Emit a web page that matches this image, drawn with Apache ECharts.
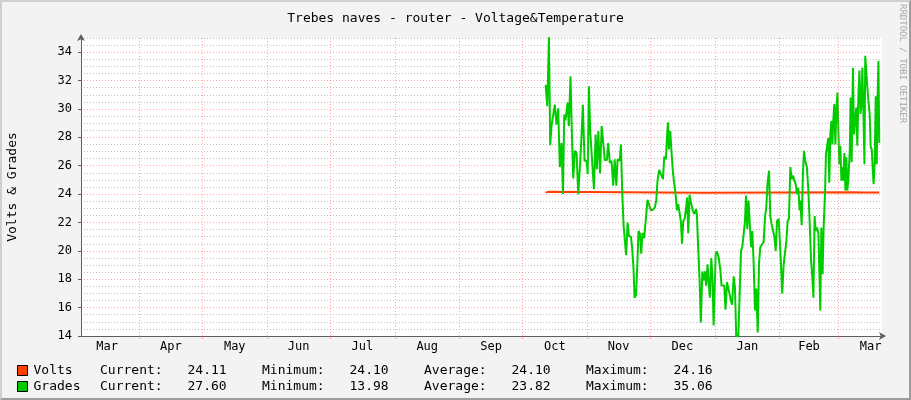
<!DOCTYPE html>
<html lang="en">
<head>
<meta charset="UTF-8">
<title>Trebes naves - router - Voltage&amp;Temperature</title>
<script src="https://cdn.jsdelivr.net/npm/echarts@6/dist/echarts.min.js"></script>
<style>
  html, body { margin: 0; padding: 0; background: #f3f3f3; }
  #wrap { position: relative; width: 911px; height: 400px; }
  #main { width: 911px; height: 400px; }
  #frame {
    position: absolute; left: 0; top: 0; width: 911px; height: 400px;
    box-sizing: border-box; pointer-events: none;
    border-top: 2px solid #cfcfcf; border-left: 2px solid #cfcfcf;
    border-bottom: 2px solid #9c9c9c; border-right: 2px solid #9c9c9c;
  }
</style>
</head>
<body>
<div id="wrap">
  <div id="main"></div>
  <div id="frame"></div>
</div>
<script>
// days counted from 1 March of the first year
var monthNames   = ['Mar', 'Apr', 'May', 'Jun', 'Jul', 'Aug', 'Sep', 'Oct', 'Nov', 'Dec', 'Jan', 'Feb', 'Mar'];
var monthStarts  = [0, 31, 61, 92, 122, 153, 184, 214, 245, 275, 306, 337, 365];
var monthLengths = [31, 30, 31, 30, 31, 31, 30, 31, 30, 31, 31, 28, 31];
var dayMin = 3, dayMax = 385.9;

var yTicks = [14, 16, 18, 20, 22, 24, 26, 28, 30, 32, 34];

var voltDays   = [225.1, 226.3, 227.2, 300, 372.0, 372.8, 376.4, 377.3, 384.6];
var voltValues = [24.10, 24.16, 24.10, 24.10, 24.13, 24.10, 24.12, 24.10, 24.11];

var gradeDays = [
  225.1, 225.9, 226.7, 227.3, 227.9, 228.7, 229.5, 230.3, 231.1, 231.9, 232.7, 233.4, 234.0, 234.6, 235.6, 236.2,
  237.0, 237.7, 238.3, 239.1, 239.9, 240.7, 241.6, 242.3, 242.9, 243.7, 244.7, 245.2, 245.8, 246.4, 247.2, 248.2,
  249.0, 249.6, 250.3, 251.1, 251.9, 252.8, 253.4, 254.4, 255.0, 255.8, 256.6, 257.4, 258.1, 258.9, 259.5, 260.5,
  261.1, 261.7, 262.4, 263.2, 263.6, 264.3, 264.9, 265.9, 266.5, 267.1, 267.6, 268.3, 268.9, 269.5, 270.2, 270.8,
  271.4, 272.2, 273.0, 273.8, 274.6, 275.4, 276.4, 277.3, 278.0, 278.6, 279.4, 280.2, 281.2, 281.8, 282.6, 283.1,
  283.6, 284.0, 284.7, 285.3, 286.0, 286.6, 287.2, 287.9, 288.5, 289.1, 289.8, 290.3, 290.9, 291.5, 292.2, 292.7,
  293.3, 293.9, 294.6, 295.4, 296.2, 297.0, 297.4, 298.1, 298.7, 299.3, 300.0, 300.6, 301.3, 301.9, 302.5, 303.2,
  303.6, 304.3, 304.9, 305.4, 306.4, 307.0, 307.8, 308.6, 309.2, 309.9, 310.5, 311.1, 311.8, 312.6, 313.4, 314.2,
  315.0, 315.6, 316.2, 317.2, 317.8, 318.5, 319.1, 319.8, 320.4, 320.9, 321.5, 322.1, 322.6, 323.3, 323.9, 324.5,
  325.2, 325.8, 326.5, 327.1, 327.7, 328.5, 329.3, 330.0, 330.6, 331.2, 331.9, 332.5, 333.1, 333.8, 334.4, 335.1,
  335.7, 336.5, 337.1, 337.6, 338.2, 338.9, 339.5, 340.2, 340.8, 341.4, 342.1, 342.7, 343.3, 344.0, 344.6, 345.3,
  345.9, 346.5, 346.9, 347.5, 348.1, 348.6, 349.2, 350.0, 350.7, 351.3, 352.0, 352.6, 353.1, 353.7, 354.2, 354.8,
  355.5, 355.9, 356.4, 356.9, 357.5, 358.0, 358.7, 359.1, 359.8, 360.2, 360.7, 361.2, 361.7, 362.2, 362.6, 363.1,
  363.6, 364.1, 364.6, 365.0, 365.5, 366.0, 366.5, 366.9, 367.4, 367.9, 368.4, 368.9, 369.3, 369.8, 370.5, 370.9,
  371.4, 372.0, 372.5, 373.0, 373.6, 374.1, 374.6, 375.1, 375.6, 376.0, 376.5, 377.0, 377.5, 377.9, 378.4, 378.9,
  379.4, 380.0, 380.5, 381.0, 381.5, 381.9, 382.4, 382.9, 383.4, 383.8, 384.2, 384.6
];
var gradeValues = [
  31.7, 30.2, 35.06, 27.45, 28.8, 28.9, 30.3, 28.9, 30.05, 25.9, 27.6, 24.0, 29.6, 29.2, 30.45, 28.8,
  32.3, 28.0, 25.1, 27.05, 26.9, 24.0, 26.2, 28.2, 30.3, 26.35, 26.35, 25.4, 31.6, 28.45, 28.45, 24.35,
  28.2, 25.75, 28.45, 25.45, 28.8, 28.9, 26.4, 26.4, 27.6, 26.2, 26.35, 24.6, 26.45, 24.6, 26.45, 26.35,
  27.5, 24.2, 21.7, 21.6, 19.7, 22.0, 21.05, 21.0, 20.1, 18.8, 16.7, 16.85, 18.85, 21.4, 21.2, 19.8,
  21.25, 20.9, 22.2, 23.6, 23.55, 22.85, 22.9, 23.05, 23.55, 24.95, 25.7, 25.4, 25.05, 26.65, 26.45, 28.0,
  29.05, 27.15, 28.45, 26.9, 25.5, 25.4, 24.0, 22.85, 23.3, 23.35, 22.0, 20.5, 22.1, 22.25, 22.95, 23.75,
  21.25, 23.95, 23.4, 22.85, 22.6, 22.95, 22.6, 20.0, 17.9, 14.95, 18.55, 17.9, 18.55, 17.55, 19.05, 19.1,
  16.7, 19.5, 17.9, 14.75, 19.8, 19.95, 19.55, 18.7, 17.55, 17.45, 17.55, 15.85, 17.8, 17.25, 16.7, 16.2,
  18.2, 17.45, 14.0, 13.98, 16.7, 20.0, 20.25, 20.35, 22.1, 23.9, 21.55, 23.55, 23.6, 20.25, 21.4, 19.3,
  15.8, 17.35, 14.25, 19.1, 20.25, 20.45, 20.6, 22.4, 23.1, 24.8, 25.65, 22.45, 21.9, 22.0, 21.05, 20.0,
  22.1, 22.25, 20.6, 19.05, 17.0, 19.05, 19.05, 20.7, 22.1, 22.25, 25.9, 25.05, 25.3, 25.4, 24.7, 24.0,
  24.45, 22.85, 23.55, 21.8, 25.4, 27.05, 26.35, 25.9, 24.25, 22.1, 19.3, 18.15, 16.7, 22.45, 21.4, 21.65,
  21.25, 18.85, 15.8, 21.65, 18.35, 21.65, 24.25, 26.8, 26.8, 27.95, 24.8, 28.2, 29.15, 27.5, 29.15, 30.35,
  27.5, 30.0, 31.15, 28.7, 26.1, 27.4, 24.95, 25.9, 24.95, 26.9, 24.25, 26.6, 24.25, 24.95, 27.05, 30.8,
  26.25, 32.9, 28.2, 29.05, 30.1, 27.4, 30.9, 32.7, 29.65, 30.2, 32.9, 29.85, 26.1, 33.75, 33.75, 31.5,
  30.6, 29.65, 27.3, 27.15, 25.65, 24.7, 26.25, 30.9, 26.1, 30.8, 33.4, 27.6
];

var voltStats  = ['24.11', '24.10', '24.10', '24.16'];
var gradeStats = ['27.60', '13.98', '23.82', '35.06'];

var labelDays = monthStarts.map(function (s, i) { return s + monthLengths[i] / 2; });
var gridDays = monthStarts.filter(function (d) { return d > dayMin && d < dayMax; });

function pairs(xs, ys) {
  return xs.map(function (x, i) { return [x, ys[i]]; });
}

var mono = 'DejaVu Sans Mono';
var minorGrid = 'rgba(170,170,170,0.75)';
var majorGrid = 'rgba(255,110,110,0.6)';

var legendRich = {
  n: { width: 66.5, padding: [0, 0, 0, 1], fontFamily: mono, fontSize: 13 },
  c: { width: 87.5, fontFamily: mono, fontSize: 13 },
  v: { width: 74.5, fontFamily: mono, fontSize: 13 }
};

function legendLine(name, st) {
  return '{n|' + name + '}{c|Current:}{v|' + st[0] + '}{c|Minimum:}{v|' + st[1] +
    '}{c|Average:}{v|' + st[2] + '}{c|Maximum:}{v|' + st[3] + '}';
}

function legendFor(name, top, stats) {
  return {
    left: 12,
    top: top,
    itemWidth: 10,
    itemHeight: 10,
    selectedMode: false,
    icon: 'rect',
    data: [name],
    itemStyle: { borderColor: '#000', borderWidth: 1 },
    textStyle: { color: '#000', rich: legendRich },
    formatter: function () { return legendLine(name, stats); }
  };
}

var axisGray = '#5e5e5e';

var myChart = echarts.init(document.getElementById('main'));
myChart.setOption({
  animation: false,
  backgroundColor: '#f3f3f3',
  title: {
    text: 'Trebes naves - router - Voltage&Temperature',
    left: 'center',
    top: 7,
    textStyle: { fontFamily: mono, fontSize: 13, fontWeight: 'normal', color: '#000' }
  },
  legend: [legendFor('Volts', 359, voltStats), legendFor('Grades', 375, gradeStats)],
  graphic: [{
    type: 'text',
    x: 902,
    y: 4,
    rotation: -Math.PI / 2,
    style: {
      text: 'RRDTOOL / TOBI OETIKER',
      fill: '#a8a8a8',
      font: '9px "DejaVu Sans Mono"',
      align: 'left',
      verticalAlign: 'middle'
    }
  }],
  grid: {
    left: 81, right: 29, top: 38, bottom: 64,
    containLabel: false, outerBoundsMode: 'none',
    backgroundColor: '#fff', show: true, borderWidth: 0
  },
  xAxis: {
    type: 'value',
    min: dayMin,
    max: dayMax,
    axisLine: {
      show: true,
      lineStyle: { color: axisGray, width: 1 },
      symbol: ['none', 'arrow'],
      symbolSize: [6, 7],
      symbolOffset: [0, 4]
    },
    axisTick: {
      show: true,
      customValues: gridDays,
      length: 3,
      lineStyle: { color: majorGrid }
    },
    axisLabel: {
      customValues: labelDays,
      margin: 5,
      fontFamily: mono,
      fontSize: 12,
      color: '#000',
      formatter: function (v) {
        var best = 0;
        labelDays.forEach(function (d, i) {
          if (Math.abs(d - v) < Math.abs(labelDays[best] - v)) best = i;
        });
        return monthNames[best];
      }
    },
    splitLine: { show: false }
  },
  yAxis: [{
    type: 'value',
    min: 14,
    max: 35,
    interval: 0.5,
    name: 'Volts & Grades',
    nameLocation: 'middle',
    nameGap: 62,
    nameTextStyle: { fontFamily: mono, fontSize: 13, color: '#000' },
    axisLine: {
      show: true,
      lineStyle: { color: axisGray, width: 1 },
      symbol: ['none', 'arrow'],
      symbolSize: [6, 7],
      symbolOffset: [0, 4]
    },
    axisTick: { show: false },
    axisLabel: {
      margin: 9,
      fontFamily: mono,
      fontSize: 12,
      color: '#000',
      formatter: function (v) { return yTicks.indexOf(v) >= 0 ? String(v) : ''; }
    },
    splitLine: {
      show: true,
      lineStyle: { color: [majorGrid, minorGrid, minorGrid, minorGrid], type: [1, 2], width: 1 }
    }
  }, {
    type: 'value',
    min: 14,
    max: 35,
    position: 'left',
    axisLine: { show: false },
    axisLabel: { show: false },
    splitLine: { show: false },
    axisTick: { show: true, customValues: yTicks, length: 3, lineStyle: { color: axisGray } }
  }],
  series: [{
    name: 'Volts',
    type: 'line',
    showSymbol: false,
    clip: false,
    color: '#ff3f00',
    lineStyle: { width: 2, color: '#ff3f00' },
    data: pairs(voltDays, voltValues),
    markLine: {
      silent: true,
      symbol: 'none',
      label: { show: false },
      lineStyle: { color: majorGrid, type: [1, 2], width: 1 },
      data: gridDays.map(function (d) { return { xAxis: d }; })
    }
  }, {
    name: 'Grades',
    type: 'line',
    showSymbol: false,
    clip: false,
    color: '#00cc00',
    lineStyle: { width: 2, color: '#00cc00' },
    data: pairs(gradeDays, gradeValues)
  }]
});
</script>
</body>
</html>
